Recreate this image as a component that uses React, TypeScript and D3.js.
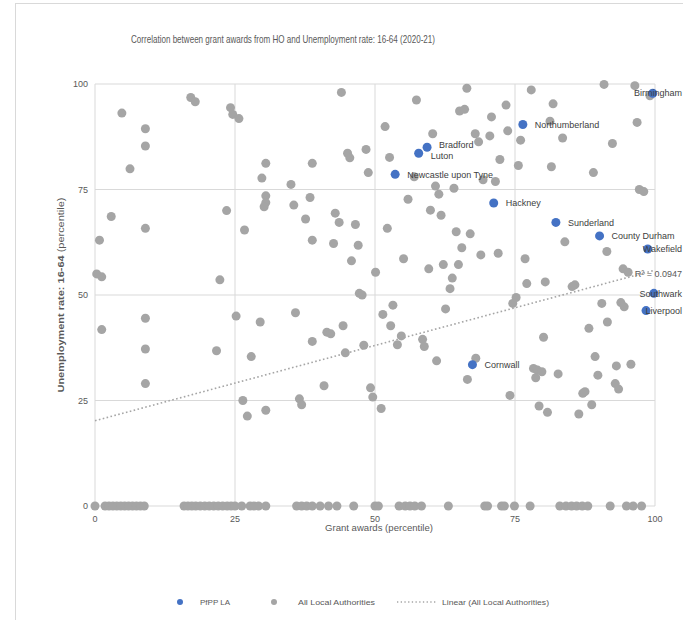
import React from "react";
import * as d3 from "d3";

// ---------- DATA ----------
const titleText = "Correlation between grant awards from HO and Unemployment rate: 16-64 (2020-21)";
const xAxisTitle = "Grant awards (percentile)";
const yAxisTitleBold = "Unemployment rate: 16-64";
const yAxisTitleRest = " (percentile)";
const tickValues = [0, 25, 50, 75, 100];
const r2Label = "R² = 0.0947";
const trendIntercept = 20.2;
const trendSlope = 0.357;

// All local authorities: [grant percentile, unemployment percentile]
const allLA: [number, number][] = [
  [4.8, 93.1], [9.0, 89.4], [9.0, 85.3], [6.25, 79.9], [17.1, 96.8], [17.9, 95.8], [24.2, 94.4], [24.6, 92.8],
  [25.7, 91.8], [44.0, 98.0], [30.5, 81.2], [29.8, 77.7], [38.8, 81.2], [35.0, 76.2], [45.1, 83.6], [45.5, 82.5],
  [48.4, 84.5], [48.8, 79.0], [30.5, 73.5], [30.5, 71.9], [30.2, 70.9], [38.4, 73.1], [35.5, 71.3], [37.6, 68.0],
  [42.9, 69.4], [43.6, 67.2], [46.5, 66.7], [38.8, 63.0], [42.6, 62.2], [47.0, 61.8], [45.8, 58.1], [50.1, 55.4],
  [23.5, 70.0], [26.7, 65.4], [2.9, 68.6], [9.0, 65.8], [0.8, 63.0], [0.3, 55.0], [1.2, 54.3], [22.3, 53.6],
  [1.2, 41.8], [9.0, 44.5], [9.0, 37.2], [9.0, 29.0], [21.7, 36.8], [25.2, 45.0], [29.5, 43.6], [27.9, 35.4],
  [26.4, 25.0], [27.2, 21.3], [30.5, 22.7], [35.8, 45.8], [38.8, 39.0], [41.4, 41.2], [42.1, 40.8], [44.3, 42.7],
  [44.7, 36.3], [48.0, 38.1], [47.2, 50.4], [47.7, 50.0], [36.5, 25.4], [36.9, 24.0], [40.9, 28.5], [49.2, 28.0],
  [49.6, 25.8],
  [66.4, 99.0], [57.4, 96.2], [77.9, 98.6], [90.9, 99.9], [96.4, 99.6], [99.1, 97.2], [73.4, 95.0], [81.8, 95.3],
  [65.1, 93.6], [66.0, 94.0], [51.8, 89.9], [60.3, 88.2], [70.8, 92.2], [81.25, 91.2], [96.8, 90.9], [67.9, 88.2],
  [68.5, 86.3], [70.5, 87.7], [73.7, 88.9], [76.0, 86.7], [83.5, 87.2], [92.4, 85.9], [52.6, 82.6], [57.0, 78.0],
  [72.3, 82.1], [75.6, 80.7], [81.5, 80.4], [89.0, 79.0], [69.3, 77.3], [71.5, 76.9], [60.8, 75.8], [64.1, 75.3],
  [61.4, 73.9], [55.9, 72.7], [97.2, 75.0], [98.0, 74.5], [59.9, 70.1], [61.8, 68.9], [52.2, 65.8], [64.5, 65.0],
  [67.0, 64.5], [83.9, 62.6], [91.4, 60.3], [65.5, 61.2], [68.9, 59.5], [72.0, 59.9], [55.1, 58.6], [76.8, 58.6],
  [62.2, 57.2], [64.9, 57.2], [59.6, 56.2], [63.8, 54.0], [63.4, 51.5], [77.1, 52.7], [80.4, 53.1], [85.7, 52.4],
  [85.2, 52.0], [94.3, 56.2], [95.2, 55.4],
  [75.2, 49.4], [74.6, 48.0], [90.5, 48.0], [93.9, 48.2], [94.5, 47.2], [91.5, 43.6], [88.2, 42.1], [80.1, 40.0],
  [53.2, 47.6], [51.4, 45.4], [52.8, 42.7], [54.7, 40.3], [54.0, 38.2], [58.5, 39.5], [58.8, 37.8], [62.6, 46.7],
  [61.0, 34.4], [68.0, 35.0], [66.5, 30.0], [74.1, 26.2], [78.3, 32.6], [79.0, 32.2], [79.8, 31.8], [78.7, 30.4],
  [82.7, 31.3], [89.3, 35.4], [89.8, 31.0], [93.1, 33.2], [95.7, 33.6], [92.9, 29.0], [93.5, 27.7], [87.1, 26.7],
  [87.5, 27.1], [88.7, 24.0], [79.3, 23.7], [80.8, 22.2], [86.4, 21.8], [51.1, 23.1],
];

// Authorities with zero unemployment percentile (grant percentile only)
const zeroRowX = [
  0, 1.8, 2.5, 3.2, 3.9, 4.6, 5.3, 6.0, 6.7, 7.4, 8.1, 8.8,
  15.9, 16.6, 17.3, 18.0, 18.8, 19.6, 20.4, 21.2, 22.0, 22.8, 23.6, 24.3,
  25.0, 26.2, 27.7, 28.4, 29.2, 30.5,
  36.0, 36.9, 37.8, 38.8, 40.2, 41.7, 43.2, 46.2,
  50.0, 50.6, 54.3, 55.4, 56.25, 57.1, 58.3, 63.1, 69.6, 70.1, 72.6, 73.1, 74.9,
  77.7, 83.0, 84.1, 85.1, 86.0, 87.0, 88.0, 92.0, 94.9, 96.1, 97.6,
];

const pfppNames = [
  "Birmingham", "Northumberland", "Bradford", "Luton", "Newcastle upon Tyne", "Hackney",
  "Sunderland", "County Durham", "Wakefield", "Southwark", "Liverpool", "Cornwall",
];
const pfppX = [99.6, 76.4, 59.3, 57.8, 53.6, 71.2, 82.3, 90.1, 98.7, 99.8, 98.4, 67.4];
const pfppY = [97.8, 90.4, 85.0, 83.6, 78.6, 71.8, 67.2, 64.0, 60.9, 50.4, 46.3, 33.5];
// small vertical nudges of the two overlapping labels (Bradford / Luton)
const pfppLabelDy = [0, 0, -2.5, 2.5, 0, 0, 0, 0, 0, 0, 0, 0];

const legendLabels = ["PfPP LA", "All Local Authorities", "Linear (All Local Authorities)"];

// ---------- STYLE ----------
const W = 683;
const H = 620;
const GRAY = "#A5A5A5";
const BLUE = "#4472C4";
const GRID = "#D9D9D9";
const TEXT = "#595959";
const FONT = "'Liberation Sans', Arial, sans-serif";

export default function App() {
  const x = d3.scaleLinear().domain([0, 100]).range([95, 655]);
  const y = d3.scaleLinear().domain([0, 100]).range([506, 84]);

  const grayPts: [number, number][] = [...allLA, ...zeroRowX.map((v) => [v, 0] as [number, number])];

  const trend = d3
    .line<number>()
    .x((d) => x(d))
    .y((d) => y(trendIntercept + trendSlope * d));

  return (
    <svg
      width={W}
      height={H}
      style={{ position: "absolute", left: 0, top: 0, background: "#fff" }}
      fontFamily={FONT}
    >
      <rect x={15.5} y={3.5} width={800} height={800} fill="#fff" stroke={GRID} strokeWidth={1} />

      {/* title */}
      <text x={283} y={43} textAnchor="middle" fontSize={10.5} fill={TEXT} textLength={304} lengthAdjust="spacingAndGlyphs">
        {titleText}
      </text>

      {/* grid */}
      {tickValues.map((t) => (
        <g key={"g" + t}>
          <line x1={x(t)} x2={x(t)} y1={y(0)} y2={y(100)} stroke={GRID} strokeWidth={1} />
          <line x1={x(0)} x2={x(100)} y1={y(t)} y2={y(t)} stroke={GRID} strokeWidth={1} />
        </g>
      ))}

      {/* tick labels */}
      {tickValues.map((t) => (
        <text key={"xt" + t} x={x(t)} y={522} textAnchor="middle" fontSize={9} fill={TEXT}>
          {t}
        </text>
      ))}
      {tickValues.map((t) => (
        <text key={"yt" + t} x={88} y={y(t) + 3.2} textAnchor="end" fontSize={9} fill={TEXT}>
          {t}
        </text>
      ))}

      {/* axis titles */}
      <text x={x(50) + 4} y={531} textAnchor="middle" fontSize={9} fill={TEXT} textLength={108} lengthAdjust="spacingAndGlyphs">
        {xAxisTitle}
      </text>
      <text
        transform={`translate(64,${(y(0) + y(100)) / 2}) rotate(-90)`}
        textAnchor="middle"
        fontSize={9.5}
        fill={TEXT}
        textLength={195}
        lengthAdjust="spacingAndGlyphs"
      >
        <tspan fontWeight="bold">{yAxisTitleBold}</tspan>
        <tspan>{yAxisTitleRest}</tspan>
      </text>

      {/* gray points */}
      {grayPts.map((p, i) => (
        <circle key={"p" + i} cx={x(p[0])} cy={y(p[1])} r={4.5} fill={GRAY} />
      ))}

      {/* trendline */}
      <path d={trend([0, 100]) || ""} fill="none" stroke={GRAY} strokeWidth={1.6} strokeDasharray="1.6 2.4" />
      <text x={682} y={y(trendIntercept + trendSlope * 100) + 7} textAnchor="end" fontSize={9} fill={TEXT}>
        {r2Label}
      </text>

      {/* PfPP points */}
      {pfppNames.map((n, i) => (
        <circle key={"b" + i} cx={x(pfppX[i])} cy={y(pfppY[i])} r={4.5} fill={BLUE} />
      ))}
      {pfppNames.map((n, i) => {
        const px = x(pfppX[i]) + 12;
        const estW = n.length * 4.8;
        const overflow = px + estW > 682;
        return (
          <text
            key={"l" + i}
            x={overflow ? 682 : px}
            y={y(pfppY[i]) + 3.2 + pfppLabelDy[i]}
            textAnchor={overflow ? "end" : "start"}
            fontSize={9}
            fill="#404040"
          >
            {n}
          </text>
        );
      })}

      {/* legend */}
      <circle cx={180} cy={602} r={3} fill={BLUE} />
      <text x={200} y={605} fontSize={8} fill={TEXT}>{legendLabels[0]}</text>
      <circle cx={274} cy={602} r={3} fill={GRAY} />
      <text x={298} y={605} fontSize={8} fill={TEXT} textLength={77} lengthAdjust="spacingAndGlyphs">{legendLabels[1]}</text>
      <line x1={397} x2={436} y1={602} y2={602} stroke={GRAY} strokeWidth={1.3} strokeDasharray="1.3 2.4" />
      <text x={442} y={605} fontSize={8} fill={TEXT} textLength={107} lengthAdjust="spacingAndGlyphs">{legendLabels[2]}</text>
    </svg>
  );
}
